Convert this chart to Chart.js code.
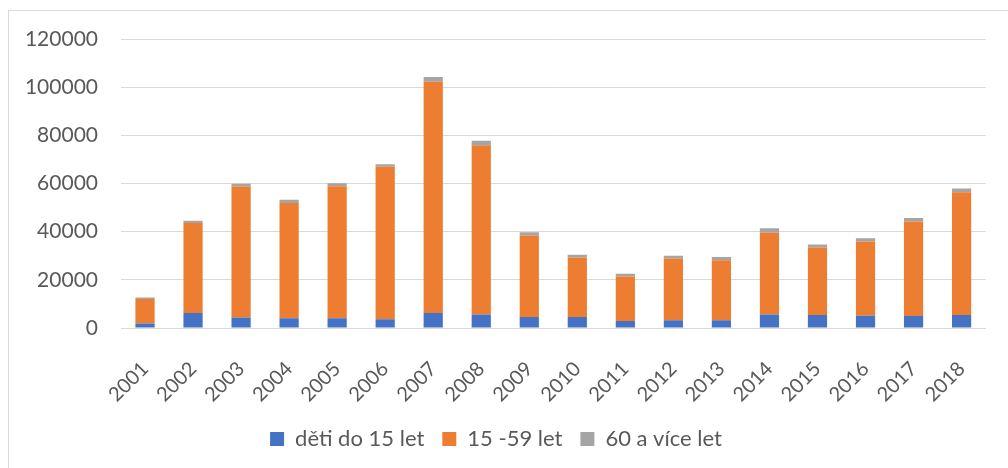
<!DOCTYPE html>
<html>
<head>
<meta charset="utf-8">
<script src="https://cdn.jsdelivr.net/npm/chart.js@4.4.1/dist/chart.umd.min.js"></script>
<style>
  html, body { margin: 0; padding: 0; background: #fff; overflow: hidden; }
  #wrap { position: relative; width: 1008px; height: 468px; }
  #frame { position: absolute; left: 8px; top: 10px; width: 1100px; height: 500px; border: 1px solid #d9d9d9; }
  canvas { position: absolute; left: 0; top: 0; }
</style>
</head>
<body>
<div id="wrap">
  <div id="frame"></div>
  <canvas id="chart" width="1008" height="468"></canvas>
</div>
<script>
const years = ['2001','2002','2003','2004','2005','2006','2007','2008','2009','2010','2011','2012','2013','2014','2015','2016','2017','2018'];
const deti = [1900, 6200, 4400, 4000, 4000, 3600, 6200, 5600, 4600, 4600, 2900, 3200, 3200, 5600, 5400, 5100, 5000, 5400];
const dospeli = [10100, 37400, 54400, 47900, 54900, 63400, 96100, 70300, 33800, 24700, 18500, 25700, 24900, 34000, 28000, 30800, 39200, 51000];
const starsi = [700, 900, 1100, 1400, 1200, 1000, 1900, 1800, 1400, 1100, 1100, 1100, 1400, 1800, 1300, 1400, 1500, 1500];
const yTicks = [0, 20000, 40000, 60000, 80000, 100000, 120000];

const textColor = '#595959';
const gridColor = '#d9d9d9';
const fontFamily = 'Lato, "Open Sans", sans-serif';

new Chart(document.getElementById('chart'), {
    type: 'bar',
    data: {
        labels: years,
        datasets: [
            { label: 'děti do 15 let', data: deti, backgroundColor: '#4472C4' },
            { label: '15 -59 let', data: dospeli, backgroundColor: '#ED7D31' },
            { label: '60 a více let', data: starsi, backgroundColor: '#A5A5A5' }
        ]
    },
    options: {
        responsive: false,
        animation: false,
        layout: { padding: { left: 0, right: 16, top: 39, bottom: 8 } },
        datasets: {
            bar: { categoryPercentage: 1, barPercentage: 0.4, borderWidth: 0 }
        },
        scales: {
            x: {
                stacked: true,
                grid: { display: false, drawTicks: false },
                border: { color: gridColor, width: 1 },
                ticks: {
                    color: textColor,
                    font: { family: fontFamily, size: 20 },
                    minRotation: 45,
                    maxRotation: 45,
                    padding: 29
                },
                afterFit: (s) => { s.height = 82; }
            },
            y: {
                stacked: true,
                min: 0,
                max: 120000,
                afterBuildTicks: (s) => { s.ticks = yTicks.map(v => ({ value: v })); },
                grid: { color: gridColor, lineWidth: 1, drawTicks: false },
                border: { display: false },
                ticks: {
                    color: textColor,
                    font: { family: fontFamily, size: 21 },
                    padding: 23,
                    callback: (v) => String(v)
                },
                afterFit: (s) => { s.width = 121; }
            }
        },
        plugins: {
            legend: {
                position: 'bottom',
                labels: {
                    color: textColor,
                    font: { family: fontFamily, size: 22 },
                    boxWidth: 14,
                    boxHeight: 14,
                    padding: 18
                }
            },
            tooltip: { enabled: false }
        }
    }
});
</script>
</body>
</html>
